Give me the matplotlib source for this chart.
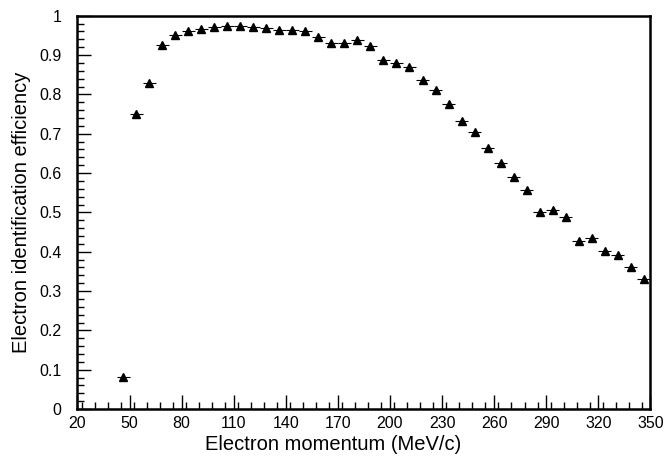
import matplotlib
matplotlib.use("Agg")
import matplotlib.pyplot as plt
from matplotlib.ticker import MultipleLocator
import numpy as np

# Momentum bins (MeV/c): width 7.5, centres from 38.75 to 346.25
bin_width = 7.5
momentum = [38.75, 46.25, 53.75, 61.25, 68.75, 76.25, 83.75, 91.25, 98.75,
            106.25, 113.75, 121.25, 128.75, 136.25, 143.75, 151.25, 158.75,
            166.25, 173.75, 181.25, 188.75, 196.25, 203.75, 211.25, 218.75,
            226.25, 233.75, 241.25, 248.75, 256.25, 263.75, 271.25, 278.75,
            286.25, 293.75, 301.25, 308.75, 316.25, 323.75, 331.25, 338.75,
            346.25]
efficiency = [0.0, 0.081, 0.751, 0.830, 0.926, 0.950, 0.960, 0.966, 0.972,
              0.975, 0.975, 0.972, 0.968, 0.964, 0.963, 0.962, 0.946,
              0.930, 0.932, 0.938, 0.924, 0.888, 0.880, 0.870, 0.837,
              0.812, 0.776, 0.733, 0.704, 0.663, 0.625, 0.590, 0.556,
              0.502, 0.506, 0.488, 0.427, 0.436, 0.403, 0.391, 0.360,
              0.331]

x_major = [20, 50, 80, 110, 140, 170, 200, 230, 260, 290, 320, 350]
y_major = [0.0, 0.1, 0.2, 0.3, 0.4, 0.5, 0.6, 0.7, 0.8, 0.9, 1.0]
y_labels = ['0', '0.1', '0.2', '0.3', '0.4', '0.5', '0.6', '0.7', '0.8', '0.9', '1']

plt.rcParams['font.family'] = ['Liberation Sans', 'DejaVu Sans']

fig = plt.figure(figsize=(6.65, 4.57), dpi=100)
ax = fig.add_axes([0.1165, 0.105, 0.8615, 0.8605])

x = np.array(momentum)
y = np.array(efficiency)

# horizontal bin-width bars
ax.errorbar(x, y, xerr=bin_width / 2, fmt='none', ecolor='black',
            elinewidth=0.8, capsize=0, zorder=2)
# markers for non-empty bins
filled = y > 0
ax.plot(x[filled], y[filled], linestyle='none', marker='^', color='black',
        markersize=6.2, zorder=3)

ax.set_xlim(20, 350)
ax.set_ylim(0, 1)

ax.set_xticks(x_major)
ax.set_xticklabels([str(v) for v in x_major])
ax.xaxis.set_minor_locator(MultipleLocator(7.5))
ax.set_yticks(y_major)
ax.set_yticklabels(y_labels)
ax.yaxis.set_minor_locator(MultipleLocator(0.02))

ax.tick_params(axis='both', which='major', direction='in', length=10, width=1,
               labelsize=11.5, top=False, right=False)
ax.tick_params(axis='y', which='major', pad=11.5)
ax.tick_params(axis='x', which='major', pad=5)
ax.tick_params(axis='both', which='minor', direction='in', length=5, width=1,
               top=False, right=False)

for side in ['left', 'bottom', 'top', 'right']:
    ax.spines[side].set_linewidth(1.8)

ax.set_xlabel('Electron momentum (MeV/c)', fontsize=14.5, labelpad=3)
ax.xaxis.label.set_x(0.447)
ax.set_ylabel('Electron identification efficiency', fontsize=14.5, labelpad=6)

fig.savefig('out.png', dpi=100)
